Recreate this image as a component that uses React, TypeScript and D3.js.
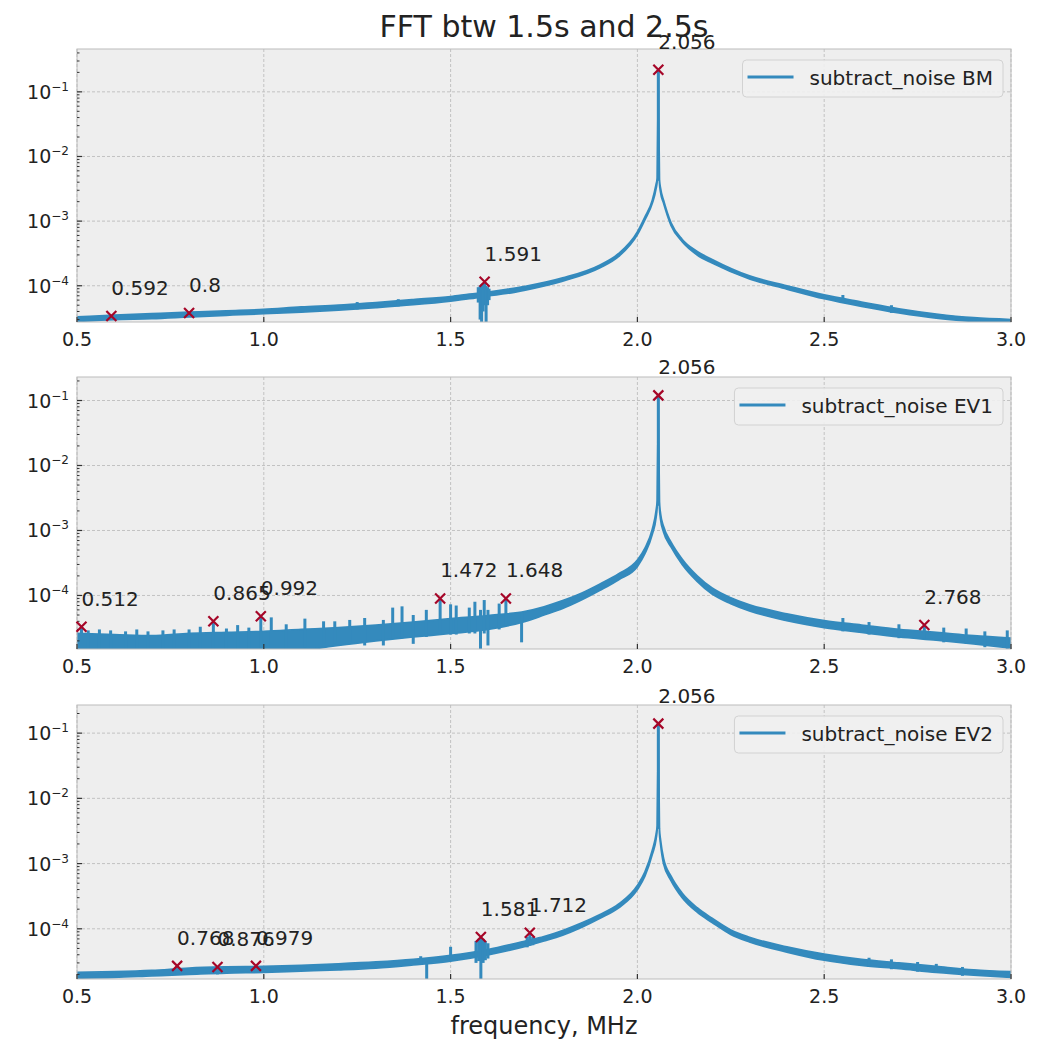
import React from "react";
import * as d3 from "d3";

// ---------- data ----------
const xTickValues = [0.5, 1.0, 1.5, 2.0, 2.5, 3.0];
const xTickLabels = ["0.5", "1.0", "1.5", "2.0", "2.5", "3.0"];
const xLimits = [0.5, 3.0];

const chartTitle = "FFT btw 1.5s and 2.5s";
const xAxisTitle = "frequency, MHz";
const seriesNames = ["subtract_noise BM", "subtract_noise EV1", "subtract_noise EV2"];

// BM spectrum: lower / upper envelope of the noisy trace
const freqBM = [0.5, 0.6, 0.7, 0.8, 0.9, 1.0, 1.1, 1.2, 1.3, 1.4, 1.5, 1.55, 1.6, 1.65, 1.7, 1.8, 1.9, 1.95, 2.0, 2.02, 2.04, 2.05, 2.053, 2.0555, 2.056, 2.0565, 2.059, 2.062, 2.07, 2.09, 2.12, 2.16, 2.2, 2.3, 2.4, 2.5, 2.6, 2.7, 2.8, 2.9, 3.0];
const loBM = [2.8e-5, 3.0e-5, 3.1e-5, 3.3e-5, 3.5e-5, 3.7e-5, 3.9e-5, 4.2e-5, 4.6e-5, 5.1e-5, 5.8e-5, 6.3e-5, 7.0e-5, 7.6e-5, 8.6e-5, 1.18e-4, 1.9e-4, 2.85e-4, 6.2e-4, 1.05e-3, 1.9e-3, 3.2e-3, 4.2e-3, 0.1, 0.22, 0.1, 4.0e-3, 2.8e-3, 1.9e-3, 8.6e-4, 4.8e-4, 3.0e-4, 2.25e-4, 1.28e-4, 8.9e-5, 6.3e-5, 4.8e-5, 3.8e-5, 3.15e-5, 2.8e-5, 2.6e-5];
const hiBM = [3.3e-5, 3.5e-5, 3.7e-5, 3.9e-5, 4.1e-5, 4.3e-5, 4.7e-5, 5.0e-5, 5.5e-5, 6.1e-5, 6.8e-5, 7.4e-5, 8.0e-5, 8.8e-5, 9.8e-5, 1.32e-4, 2.1e-4, 3.15e-4, 6.8e-4, 1.15e-3, 2.1e-3, 3.7e-3, 4.6e-3, 0.1, 0.22, 0.1, 4.4e-3, 3.2e-3, 2.1e-3, 9.4e-4, 5.2e-4, 3.4e-4, 2.55e-4, 1.42e-4, 1.0e-4, 7.2e-5, 5.6e-5, 4.4e-5, 3.65e-5, 3.2e-5, 3.0e-5];
// isolated excursions: [frequency, low, high]
const spikesBM = [
  [1.574, 5.5e-5, 9.5e-5], [1.579, 3.0e-5, 1.0e-4], [1.583, 2.0e-5, 1.05e-4], [1.587, 4.0e-5, 1.1e-4],
  [1.591, 5.0e-5, 1.15e-4], [1.595, 2.0e-5, 1.0e-4], [1.599, 5.0e-5, 9.5e-5], [1.603, 6.0e-5, 9.0e-5],
  [1.25, 4.3e-5, 5.6e-5], [1.36, 4.8e-5, 6.2e-5], [2.55, 5.5e-5, 7.2e-5], [2.68, 3.8e-5, 5.0e-5],
  [2.056, 4.2e-3, 0.22],
];
const peakFreqBM = [0.592, 0.8, 1.591, 2.056];
const peakAmpBM = [3.4e-5, 3.8e-5, 1.15e-4, 0.22];
const yLimBM = [2.75e-5, 0.46];

// EV1 spectrum
const freqEV1 = [0.5, 0.6, 0.7, 0.8, 0.9, 1.0, 1.1, 1.2, 1.3, 1.4, 1.5, 1.6, 1.7, 1.75, 1.8, 1.85, 1.9, 1.95, 2.0, 2.02, 2.04, 2.05, 2.053, 2.0555, 2.056, 2.0565, 2.059, 2.062, 2.07, 2.09, 2.12, 2.16, 2.2, 2.25, 2.3, 2.4, 2.5, 2.6, 2.7, 2.8, 2.9, 3.0];
const loEV1 = [1.0e-5, 1.0e-5, 1.0e-5, 1.0e-5, 1.0e-5, 1.1e-5, 1.4e-5, 1.7e-5, 2.0e-5, 2.3e-5, 2.6e-5, 3.0e-5, 4.0e-5, 5.0e-5, 6.3e-5, 8.5e-5, 1.2e-4, 1.75e-4, 2.8e-4, 4.4e-4, 8.8e-4, 1.6e-3, 2.4e-3, 0.06, 0.12, 0.06, 2.3e-3, 1.5e-3, 9.5e-4, 5.6e-4, 3.0e-4, 1.65e-4, 1.05e-4, 7.5e-5, 5.8e-5, 4.1e-5, 3.2e-5, 2.7e-5, 2.3e-5, 2.05e-5, 1.8e-5, 1.55e-5];
const hiEV1 = [2.6e-5, 2.5e-5, 2.4e-5, 2.6e-5, 2.7e-5, 2.8e-5, 3.0e-5, 3.2e-5, 3.5e-5, 3.9e-5, 4.4e-5, 4.9e-5, 5.7e-5, 6.7e-5, 8.3e-5, 1.08e-4, 1.5e-4, 2.15e-4, 3.5e-4, 5.3e-4, 1.05e-3, 2.0e-3, 2.9e-3, 0.06, 0.12, 0.06, 2.8e-3, 1.8e-3, 1.15e-3, 6.6e-4, 3.6e-4, 2.0e-4, 1.3e-4, 9.2e-5, 7.2e-5, 5.2e-5, 4.1e-5, 3.5e-5, 3.0e-5, 2.7e-5, 2.4e-5, 2.2e-5];
const spikesEV1 = [
  [0.512, 1.2e-5, 3.3e-5], [0.53, 1.2e-5, 2.9e-5], [0.56, 1.2e-5, 3.0e-5], [0.59, 1.2e-5, 2.9e-5],
  [0.63, 1.2e-5, 2.8e-5], [0.66, 1.2e-5, 3.0e-5], [0.69, 1.2e-5, 2.8e-5], [0.73, 1.2e-5, 2.9e-5],
  [0.76, 1.2e-5, 3.0e-5], [0.80, 1.2e-5, 3.0e-5], [0.83, 1.2e-5, 3.3e-5], [0.865, 1.2e-5, 4.0e-5],
  [0.90, 1.2e-5, 3.1e-5], [0.93, 1.2e-5, 3.5e-5], [0.96, 1.2e-5, 3.2e-5], [0.992, 1.2e-5, 4.8e-5],
  [1.02, 1.5e-5, 4.6e-5], [1.06, 1.5e-5, 3.6e-5], [1.11, 1.6e-5, 4.4e-5], [1.16, 1.8e-5, 4.0e-5],
  [1.19, 1.8e-5, 4.0e-5], [1.23, 1.9e-5, 4.2e-5], [1.27, 1.7e-5, 4.5e-5], [1.32, 1.7e-5, 4.2e-5],
  [1.345, 2.2e-5, 6.5e-5], [1.37, 2.2e-5, 6.8e-5], [1.40, 1.8e-5, 5.0e-5], [1.435, 2.3e-5, 6.0e-5],
  [1.472, 2.5e-5, 9.0e-5], [1.50, 2.5e-5, 7.3e-5], [1.515, 2.5e-5, 7.0e-5], [1.55, 2.6e-5, 6.5e-5],
  [1.565, 2.6e-5, 8.0e-5], [1.58, 1.3e-5, 6.0e-5], [1.59, 2.6e-5, 8.5e-5], [1.60, 1.7e-5, 6.0e-5],
  [1.63, 3.0e-5, 7.5e-5], [1.648, 3.5e-5, 9.0e-5], [1.69, 1.9e-5, 5.5e-5],
  [2.55, 2.8e-5, 4.5e-5], [2.62, 2.5e-5, 3.9e-5], [2.70, 2.2e-5, 3.6e-5], [2.768, 2.2e-5, 3.5e-5],
  [2.82, 1.9e-5, 3.2e-5], [2.88, 1.8e-5, 3.1e-5], [2.93, 1.6e-5, 2.8e-5], [2.99, 1.5e-5, 2.9e-5],
  [2.056, 2.4e-3, 0.12],
];
const peakFreqEV1 = [0.512, 0.865, 0.992, 1.472, 1.648, 2.056, 2.768];
const peakAmpEV1 = [3.3e-5, 4.0e-5, 4.8e-5, 9.0e-5, 9.0e-5, 0.12, 3.5e-5];
const yLimEV1 = [1.5e-5, 0.23];

// EV2 spectrum
const freqEV2 = [0.5, 0.6, 0.7, 0.8, 0.9, 1.0, 1.1, 1.2, 1.3, 1.4, 1.5, 1.6, 1.7, 1.75, 1.8, 1.85, 1.9, 1.95, 2.0, 2.02, 2.04, 2.05, 2.053, 2.0555, 2.056, 2.0565, 2.059, 2.062, 2.07, 2.09, 2.12, 2.16, 2.2, 2.25, 2.3, 2.4, 2.5, 2.6, 2.7, 2.8, 2.9, 3.0];
const loEV2 = [1.75e-5, 1.8e-5, 1.9e-5, 2.0e-5, 2.1e-5, 2.15e-5, 2.25e-5, 2.35e-5, 2.5e-5, 2.8e-5, 3.2e-5, 4.0e-5, 5.4e-5, 6.5e-5, 8.0e-5, 1.05e-4, 1.45e-4, 2.1e-4, 4.0e-4, 6.4e-4, 1.4e-3, 2.4e-3, 3.4e-3, 0.07, 0.14, 0.07, 3.0e-3, 2.0e-3, 1.0e-3, 5.5e-4, 3.0e-4, 1.8e-4, 1.25e-4, 8.2e-5, 6.3e-5, 4.4e-5, 3.3e-5, 2.75e-5, 2.45e-5, 2.15e-5, 1.95e-5, 1.8e-5];
const hiEV2 = [2.15e-5, 2.2e-5, 2.3e-5, 2.5e-5, 2.6e-5, 2.65e-5, 2.75e-5, 2.9e-5, 3.1e-5, 3.4e-5, 3.9e-5, 4.8e-5, 6.5e-5, 7.6e-5, 9.4e-5, 1.22e-4, 1.65e-4, 2.4e-4, 4.6e-4, 7.4e-4, 1.6e-3, 2.8e-3, 3.8e-3, 0.07, 0.14, 0.07, 3.4e-3, 2.3e-3, 1.2e-3, 6.4e-4, 3.5e-4, 2.1e-4, 1.45e-4, 9.6e-5, 7.4e-5, 5.3e-5, 4.1e-5, 3.4e-5, 3.0e-5, 2.65e-5, 2.35e-5, 2.2e-5];
const spikesEV2 = [
  [0.768, 2.0e-5, 2.7e-5], [0.876, 2.0e-5, 2.6e-5], [0.979, 2.1e-5, 2.7e-5], [1.42, 2.8e-5, 3.8e-5],
  [1.436, 1.6e-5, 3.2e-5], [1.5, 3.2e-5, 5.3e-5], [1.568, 3.0e-5, 6.5e-5], [1.575, 3.2e-5, 7.0e-5],
  [1.581, 1.6e-5, 7.5e-5], [1.587, 3.0e-5, 7.0e-5], [1.593, 3.3e-5, 6.5e-5], [1.60, 3.5e-5, 6.0e-5],
  [1.705, 5.2e-5, 7.5e-5], [1.712, 5.5e-5, 8.7e-5], [1.72, 5.6e-5, 7.5e-5],
  [2.62, 2.6e-5, 3.6e-5], [2.68, 2.4e-5, 3.4e-5], [2.75, 2.2e-5, 3.1e-5], [2.8, 2.1e-5, 2.9e-5], [2.87, 1.9e-5, 2.6e-5],
  [2.056, 3.4e-3, 0.14],
];
const peakFreqEV2 = [0.768, 0.876, 0.979, 1.581, 1.712, 2.056];
const peakAmpEV2 = [2.7e-5, 2.6e-5, 2.7e-5, 7.5e-5, 8.7e-5, 0.14];
const yLimEV2 = [1.7e-5, 0.27];

// ---------- layout & style ----------
const W = 1042;
const H = 1042;
const PLOT_LEFT = 77;
const PLOT_RIGHT = 1011;
const BOXES = [
  { top: 49, bottom: 322 },
  { top: 377, bottom: 649 },
  { top: 705, bottom: 979 },
];
const FONT = "'DejaVu Sans', 'Noto Sans', sans-serif";
const LINE_COLOR = "#348ABD";
const MARK_COLOR = "#A60628";
const AX_BG = "#eeeeee";
const SPINE = "#bcbcbc";
const GRID = "#c2c2c2";
const TEXT = "#222222";

const panels = [
  { id: "bm", name: seriesNames[0], freq: freqBM, lo: loBM, hi: hiBM, spikes: spikesBM, pf: peakFreqBM, pa: peakAmpBM, yLim: yLimBM },
  { id: "ev1", name: seriesNames[1], freq: freqEV1, lo: loEV1, hi: hiEV1, spikes: spikesEV1, pf: peakFreqEV1, pa: peakAmpEV1, yLim: yLimEV1 },
  { id: "ev2", name: seriesNames[2], freq: freqEV2, lo: loEV2, hi: hiEV2, spikes: spikesEV2, pf: peakFreqEV2, pa: peakAmpEV2, yLim: yLimEV2 },
];

function textWidth(text: string, font: string): number {
  if (typeof document === "undefined") return text.length * 10;
  const ctx = document.createElement("canvas").getContext("2d");
  if (!ctx) return text.length * 10;
  ctx.font = font;
  return ctx.measureText(text).width;
}

function Panel({ p, box }: { p: any; box: { top: number; bottom: number } }) {
  const x = d3.scaleLinear().domain(xLimits).range([PLOT_LEFT, PLOT_RIGHT]);
  const y = d3.scaleLog().domain(p.yLim).range([box.bottom, box.top]);

  const rows = p.freq.map((f: number, i: number) => ({ f, lo: p.lo[i], hi: p.hi[i] }));
  const band = d3
    .area<any>()
    .x((d) => x(d.f))
    .y0((d) => y(d.lo))
    .y1((d) => y(d.hi))
    .curve(d3.curveMonotoneX);

  const eMin = Math.floor(Math.log10(p.yLim[0]));
  const eMax = Math.floor(Math.log10(p.yLim[1]));
  const majors: number[] = [];
  const minors: number[] = [];
  for (let e = eMin; e <= eMax; e++) {
    const base = Math.pow(10, e);
    if (base >= p.yLim[0] && base <= p.yLim[1]) majors.push(e);
    for (let k = 2; k <= 9; k++) {
      const v = k * base;
      if (v >= p.yLim[0] && v <= p.yLim[1]) minors.push(v);
    }
  }

  const tw = textWidth(p.name, "20px 'DejaVu Sans'");
  const legW = 67 + tw + 10;
  const legRight = PLOT_RIGHT - 8;
  const legLeft = legRight - legW;
  const legTop = box.top + 11;
  const clipId = `clip-${p.id}`;
  const h = box.bottom - box.top;

  return (
    <g>
      <defs>
        <clipPath id={clipId}>
          <rect x={PLOT_LEFT} y={box.top} width={PLOT_RIGHT - PLOT_LEFT} height={h} />
        </clipPath>
      </defs>
      <rect x={PLOT_LEFT} y={box.top} width={PLOT_RIGHT - PLOT_LEFT} height={h} fill={AX_BG} />
      {/* grid */}
      {xTickValues.map((v) => (
        <line key={`gx${v}`} x1={x(v)} x2={x(v)} y1={box.top} y2={box.bottom} stroke={GRID} strokeWidth={1} strokeDasharray="3,2" />
      ))}
      {majors.map((e) => (
        <line key={`gy${e}`} x1={PLOT_LEFT} x2={PLOT_RIGHT} y1={y(Math.pow(10, e))} y2={y(Math.pow(10, e))} stroke={GRID} strokeWidth={1} strokeDasharray="3,2" />
      ))}
      {/* spectrum */}
      <g clipPath={`url(#${clipId})`}>
        <path d={band(rows) || ""} fill={LINE_COLOR} stroke={LINE_COLOR} strokeWidth={1.8} strokeLinejoin="round" />
        {p.spikes.map((s: number[], i: number) => (
          <line key={`s${i}`} x1={x(s[0])} x2={x(s[0])} y1={y(s[1])} y2={y(s[2])} stroke={LINE_COLOR} strokeWidth={3} />
        ))}
      </g>
      {/* frame */}
      <rect x={PLOT_LEFT} y={box.top} width={PLOT_RIGHT - PLOT_LEFT} height={h} fill="none" stroke={SPINE} strokeWidth={1} />
      {/* ticks */}
      {majors.map((e) => (
        <line key={`ty${e}`} x1={PLOT_LEFT} x2={PLOT_LEFT + 5} y1={y(Math.pow(10, e))} y2={y(Math.pow(10, e))} stroke="#333" strokeWidth={1.2} />
      ))}
      {minors.map((v, i) => (
        <line key={`tm${i}`} x1={PLOT_LEFT} x2={PLOT_LEFT + 2.5} y1={y(v)} y2={y(v)} stroke="#333" strokeWidth={1} />
      ))}
      {xTickValues.map((v) => (
        <line key={`tx${v}`} x1={x(v)} x2={x(v)} y1={box.bottom} y2={box.bottom - 5} stroke="#333" strokeWidth={1.2} />
      ))}
      {/* tick labels */}
      {majors.map((e) => (
        <text key={`ly${e}`} x={PLOT_LEFT - 8} y={y(Math.pow(10, e)) + 7} textAnchor="end" fontSize={19} fill={TEXT} fontFamily={FONT}>
          10
          <tspan fontSize={12} dy={-8}>{`\u2212${Math.abs(e)}`}</tspan>
        </text>
      ))}
      {xTickValues.map((v, i) => (
        <text key={`lx${v}`} x={x(v)} y={box.bottom + 24} textAnchor="middle" fontSize={19} fill={TEXT} fontFamily={FONT}>
          {xTickLabels[i]}
        </text>
      ))}
      {/* peak markers */}
      {p.pf.map((f: number, i: number) => {
        const cx = x(f);
        const cy = y(p.pa[i]);
        const r = 5;
        return (
          <path key={`pk${i}`} d={`M${cx - r},${cy - r}L${cx + r},${cy + r}M${cx - r},${cy + r}L${cx + r},${cy - r}`} stroke={MARK_COLOR} strokeWidth={2.2} fill="none" />
        );
      })}
      {p.pf.map((f: number, i: number) => (
        <text key={`pl${i}`} x={x(f)} y={y(p.pa[i]) - 21} fontSize={20} fill={TEXT} fontFamily={FONT}>
          {String(f)}
        </text>
      ))}
      {/* legend */}
      <rect x={legLeft} y={legTop} width={legW} height={37} rx={4} ry={4} fill="#efefef" fillOpacity={0.9} stroke="#d2d2d2" strokeWidth={1} />
      <line x1={legLeft + 5} x2={legLeft + 51} y1={legTop + 17} y2={legTop + 17} stroke={LINE_COLOR} strokeWidth={3} />
      <text x={legLeft + 67} y={legTop + 25} fontSize={20} fill={TEXT} fontFamily={FONT}>
        {p.name}
      </text>
    </g>
  );
}

export default function App() {
  return (
    <svg width={W} height={H} viewBox={`0 0 ${W} ${H}`} style={{ position: "absolute", left: 0, top: 0, background: "#ffffff" }} fontFamily={FONT}>
      <rect x={0} y={0} width={W} height={H} fill="#ffffff" />
      {panels.map((p, i) => (
        <Panel key={p.id} p={p} box={BOXES[i]} />
      ))}
      <text x={(PLOT_LEFT + PLOT_RIGHT) / 2} y={37} textAnchor="middle" fontSize={30} fill={TEXT} fontFamily={FONT}>
        {chartTitle}
      </text>
      <text x={(PLOT_LEFT + PLOT_RIGHT) / 2} y={1034} textAnchor="middle" fontSize={24} fill={TEXT} fontFamily={FONT}>
        {xAxisTitle}
      </text>
    </svg>
  );
}
